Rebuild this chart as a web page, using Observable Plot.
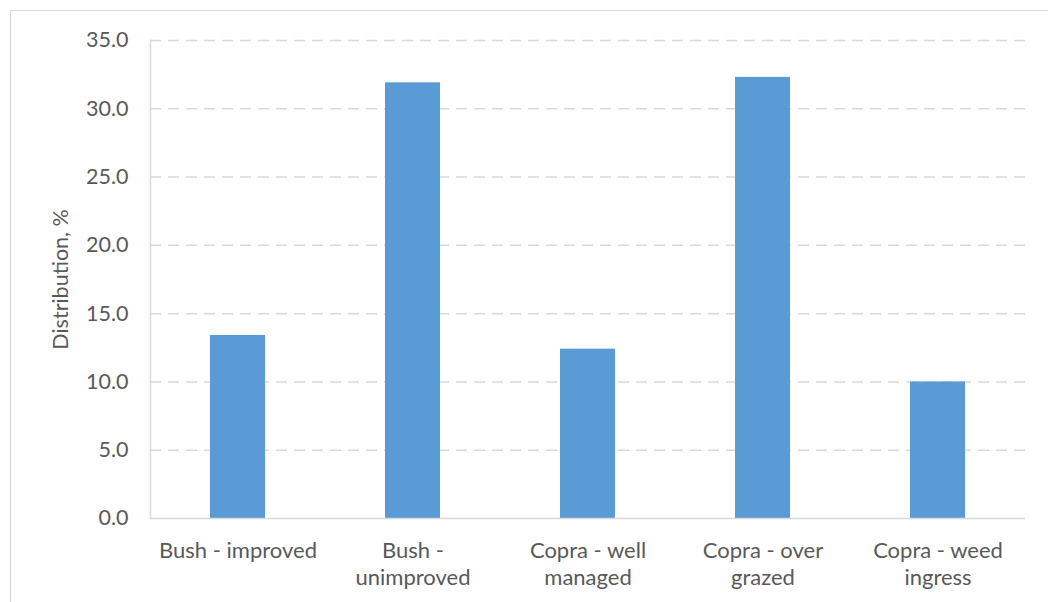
<!DOCTYPE html>
<html>
<head>
<meta charset="utf-8">
<script src="https://cdn.jsdelivr.net/npm/d3@7"></script>
<script src="https://cdn.jsdelivr.net/npm/@observablehq/plot@0.6"></script>
<style>
  html, body { margin: 0; padding: 0; background: #fff; overflow: hidden; }
  #wrap { position: relative; width: 1048px; height: 602px; }
  #border { position: absolute; left: 10px; top: 10px; width: 1100px; height: 700px;
            border: 1px solid #d9d9d9; box-sizing: border-box; }
  #chart { position: absolute; left: 0; top: 0; }
</style>
</head>
<body>
<div id="wrap"><div id="border"></div><div id="chart"></div></div>
<script>
// Land use categories and their share of the distribution (%)
const categories = [
  "Bush - improved",
  "Bush - unimproved",
  "Copra - well managed",
  "Copra - over grazed",
  "Copra - weed ingress"
];
const tickLabels = [
  "Bush - improved",
  "Bush -\nunimproved",
  "Copra - well\nmanaged",
  "Copra - over\ngrazed",
  "Copra - weed\ningress"
];
const distribution = [13.4, 31.9, 12.4, 32.3, 10.0];
const yTicks = [0, 5, 10, 15, 20, 25, 30, 35];

const data = categories.map((c, i) => ({category: c, value: distribution[i]}));

const font = "Lato, 'Open Sans', sans-serif";
const textColor = "#595959";
const lineColor = "#d9d9d9";

const chart = Plot.plot({
  width: 1048,
  height: 602,
  marginTop: 40,
  marginLeft: 150,
  marginRight: 23,
  marginBottom: 84,
  style: {fontFamily: font, background: "transparent", overflow: "visible"},
  x: {domain: categories, paddingInner: 0.686, paddingOuter: 0.343},
  y: {domain: [0, 35]},
  marks: [
    Plot.gridY(yTicks.filter(d => d > 0), {
      stroke: lineColor, strokeOpacity: 1, strokeWidth: 1.5, strokeDasharray: "11,7"
    }),
    Plot.barY(data, {x: "category", y: "value", fill: "#5B9BD5"}),
    Plot.ruleY([0], {stroke: lineColor, strokeWidth: 1.5}),
    Plot.frame({anchor: "left", stroke: lineColor, strokeWidth: 1.5}),
    Plot.axisY(yTicks, {
      tickSize: 0,
      tickPadding: 22,
      tickFormat: d => d.toFixed(1),
      fontSize: 21.5,
      fill: textColor,
      label: "Distribution, %",
      labelAnchor: "center",
      labelArrow: "none",
      labelOffset: 98
    }),
    Plot.axisX({
      tickSize: 0,
      tickPadding: 21,
      tickFormat: d => tickLabels[categories.indexOf(d)],
      fontSize: 22,
      lineHeight: 1.2,
      fill: textColor,
      label: null
    })
  ]
});

document.getElementById("chart").appendChild(chart);
</script>
</body>
</html>
